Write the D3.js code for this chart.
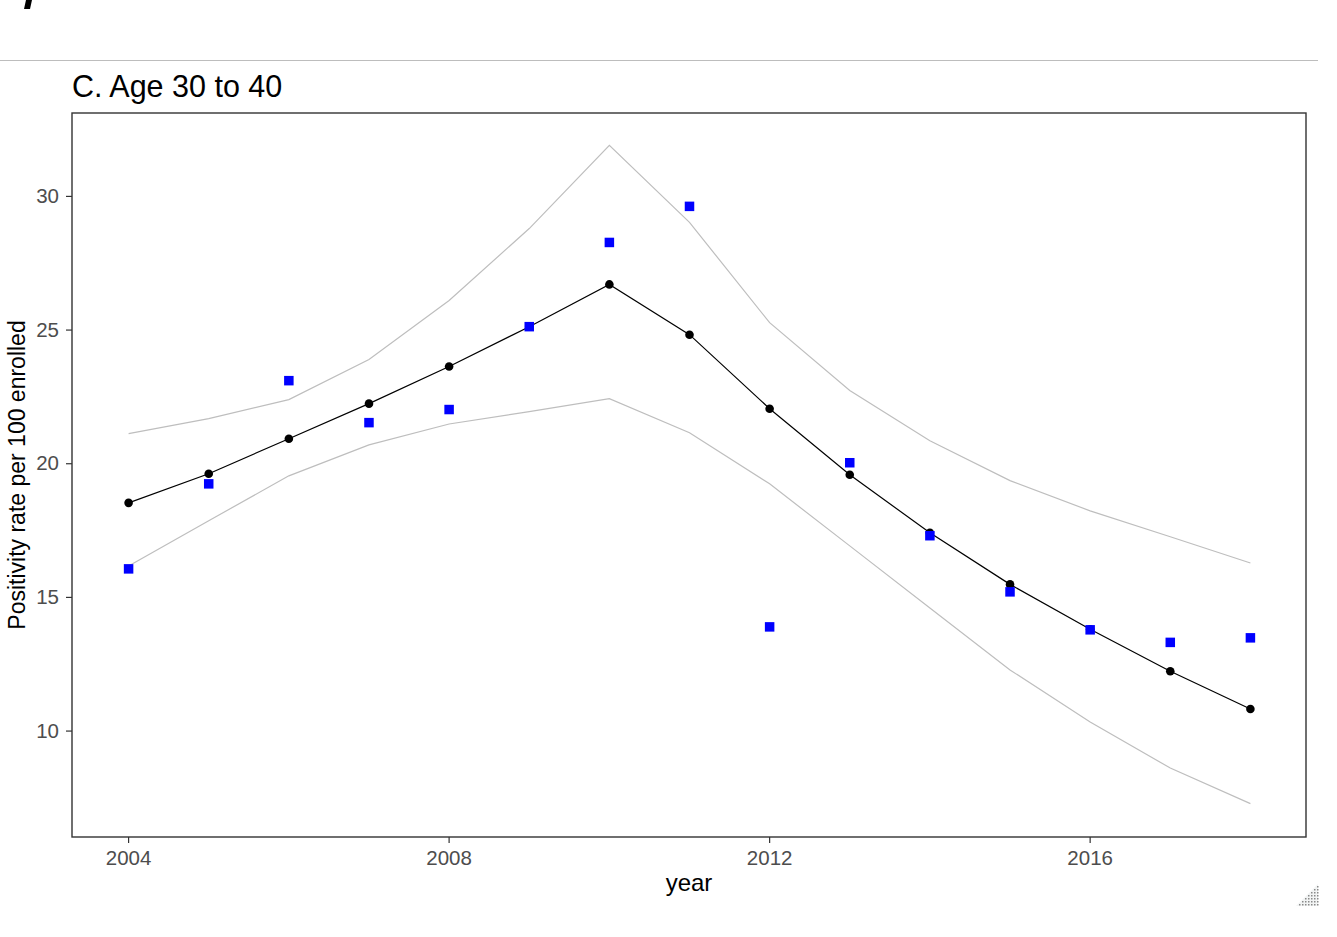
<!DOCTYPE html>
<html>
<head>
<meta charset="utf-8">
<script src="https://cdn.jsdelivr.net/npm/d3@7"></script>
<style>
  html, body { margin: 0; padding: 0; background: #fff; }
  svg { display: block; }
  text { font-family: "Liberation Sans", Arial, sans-serif; }
</style>
</head>
<body>
<svg id="chart" width="1337" height="937"></svg>
<script>
// Positivity rate per 100 enrolled, age group 30 to 40
const years    = [2004, 2005, 2006, 2007, 2008, 2009, 2010, 2011, 2012, 2013, 2014, 2015, 2016, 2017, 2018];
const fitted   = [18.50, 19.59, 20.90, 22.21, 23.60, 25.09, 26.67, 24.79, 22.02, 19.55, 17.38, 15.45, 13.77, 12.20, 10.79];
const observed = [16.03, 19.21, 23.07, 21.50, 21.99, 25.09, 28.24, 29.59, 13.86, 20.00, 17.27, 15.17, 13.75, 13.28, 13.45];
const upper    = [21.09, 21.65, 22.36, 23.86, 26.07, 28.76, 31.87, 28.99, 25.24, 22.70, 20.82, 19.33, 18.20, 17.23, 16.25];
const lower    = [16.14, 17.83, 19.51, 20.67, 21.45, 21.91, 22.40, 21.12, 19.21, 16.89, 14.57, 12.25, 10.30, 8.58, 7.25];
const xTicks   = [2004, 2008, 2012, 2016];
const yTicks   = [10, 15, 20, 25, 30];

const svg = d3.select("#chart");
const panel = { left: 72, top: 113, right: 1306, bottom: 837 };

// ggplot-style 5% expansion on both axes
const xExt = d3.extent(years);
const xPad = (xExt[1] - xExt[0]) * 0.05;
const yAll = fitted.concat(observed, upper, lower);
const yExt = d3.extent(yAll);
const yPad = (yExt[1] - yExt[0]) * 0.05;

const x = d3.scaleLinear().domain([xExt[0] - xPad, xExt[1] + xPad]).range([panel.left, panel.right]);
const y = d3.scaleLinear().domain([yExt[0] - yPad, yExt[1] + yPad]).range([panel.bottom, panel.top]);

// header rule and the tail of a stroke from the panel above
svg.append("path")
  .attr("d", "M26,0 L32,0 L30,9 L24,9 Z")
  .attr("fill", "#000");
svg.append("line")
  .attr("x1", 0).attr("x2", 1318).attr("y1", 60.5).attr("y2", 60.5)
  .attr("stroke", "#bdbdbd").attr("stroke-width", 1.2);

// title
svg.append("text")
  .attr("x", panel.left).attr("y", 97)
  .attr("font-size", 30.5).attr("fill", "#000")
  .text("C. Age 30 to 40");

// axes
const xAxis = d3.axisBottom(x).tickValues(xTicks).tickFormat(d3.format("d")).tickSize(6).tickPadding(7);
const yAxis = d3.axisLeft(y).tickValues(yTicks).tickFormat(d3.format("d")).tickSize(6).tickPadding(7);

const gx = svg.append("g").attr("transform", `translate(0,${panel.bottom})`).call(xAxis);
const gy = svg.append("g").attr("transform", `translate(${panel.left},0)`).call(yAxis);
[gx, gy].forEach(g => {
  g.select(".domain").remove();
  g.selectAll(".tick line").attr("stroke", "#333").attr("stroke-width", 1.2);
  g.selectAll(".tick text").attr("fill", "#4d4d4d").attr("font-size", 20.5)
    .attr("font-family", "Liberation Sans, Arial, sans-serif");
});

// axis titles
svg.append("text")
  .attr("x", (panel.left + panel.right) / 2).attr("y", 891)
  .attr("text-anchor", "middle").attr("font-size", 24).attr("fill", "#000")
  .text("year");
svg.append("text")
  .attr("transform", `translate(25,${(panel.top + panel.bottom) / 2}) rotate(-90)`)
  .attr("text-anchor", "middle").attr("font-size", 23).attr("fill", "#000")
  .text("Positivity rate per 100 enrolled");

// plot content
const plot = svg.append("g").attr("transform", "translate(0.5,-0.5)");
const lineOf = arr => d3.line().x((d, i) => x(years[i])).y(d => y(d))(arr);

plot.append("path").attr("d", lineOf(upper)).attr("fill", "none").attr("stroke", "#bebebe").attr("stroke-width", 1.2);
plot.append("path").attr("d", lineOf(lower)).attr("fill", "none").attr("stroke", "#bebebe").attr("stroke-width", 1.2);
plot.append("path").attr("d", lineOf(fitted)).attr("fill", "none").attr("stroke", "#000").attr("stroke-width", 1.2);

plot.selectAll("circle.fit").data(fitted).join("circle")
  .attr("class", "fit")
  .attr("cx", (d, i) => x(years[i])).attr("cy", d => y(d))
  .attr("r", 4.3).attr("fill", "#000");

const sq = 9.5;
plot.selectAll("rect.obs").data(observed).join("rect")
  .attr("class", "obs")
  .attr("x", (d, i) => x(years[i]) - sq / 2).attr("y", d => y(d) - sq / 2)
  .attr("width", sq).attr("height", sq).attr("fill", "#0000ff");

// panel border
svg.append("rect")
  .attr("x", panel.left).attr("y", panel.top)
  .attr("width", panel.right - panel.left).attr("height", panel.bottom - panel.top)
  .attr("fill", "none").attr("stroke", "#333").attr("stroke-width", 1.4);

// window resize grip in the bottom-right corner
const grip = svg.append("g");
grip.append("path").attr("d", "M1296,906 L1318,884 L1318,906 Z").attr("fill", "#f2f4f4");
for (let gy0 = 0; gy0 < 7; gy0++) {
  for (let gx0 = 0; gx0 < 7; gx0++) {
    if (gx0 + gy0 >= 6) {
      grip.append("rect")
        .attr("x", 1299 + gx0 * 3).attr("y", 886 + gy0 * 3)
        .attr("width", 1.5).attr("height", 1.5).attr("fill", "#8a8a8a");
    }
  }
}
</script>
</body>
</html>
